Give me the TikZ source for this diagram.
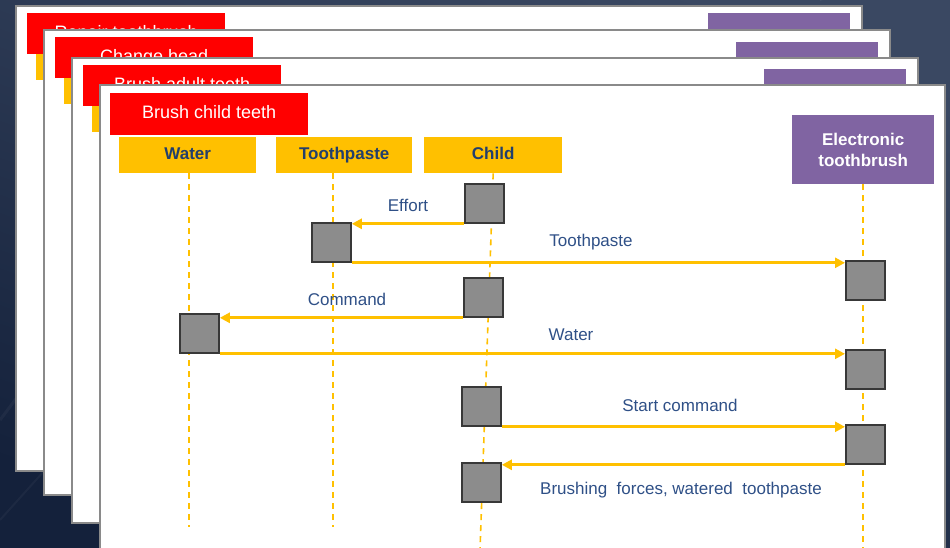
\documentclass[tikz,border=0pt]{standalone}
\usepackage{fontspec}
\setmainfont{Liberation Sans}
\usetikzlibrary{arrows.meta}

\definecolor{bgtop}{HTML}{3A4862}
\definecolor{bgbot}{HTML}{14213B}
\definecolor{tred}{HTML}{FF0000}
\definecolor{amber}{HTML}{FFC000}
\definecolor{violet}{HTML}{8064A2}
\definecolor{ink}{HTML}{2F5087}
\definecolor{inkdark}{HTML}{223F6C}
\definecolor{actfill}{HTML}{8C8C8C}
\definecolor{actedge}{HTML}{383838}
\definecolor{sheetedge}{HTML}{8A8A8A}

\tikzset{
  sheetbox/.style={rectangle, fill=white, draw=sheetedge, line width=1.3pt,
    inner sep=0pt, outer sep=0pt, anchor=north west, minimum width=846pt},
  titlebox/.style={rectangle, fill=tred, inner sep=0pt, anchor=north west,
    minimum width=198pt, minimum height=42pt, text=white,
    text height=13pt, text depth=4pt, font=\fontsize{18}{20}\selectfont},
  headbox/.style={rectangle, fill=amber, inner sep=0pt, anchor=north west,
    minimum height=36pt, text=inkdark, text height=12pt, text depth=3pt,
    font=\bfseries\fontsize{17}{19}\selectfont},
  toolbox/.style={rectangle, fill=violet, inner sep=0pt, minimum width=142pt,
    text=white, align=center, font=\bfseries\fontsize{17}{21}\selectfont},
  act/.style={rectangle, fill=actfill, draw=actedge, line width=1.8pt, inner sep=0pt,
    anchor=north west, minimum width=39pt, minimum height=39pt},
  lifeline/.style={draw=amber, line width=1.6pt, dash pattern=on 6pt off 5pt},
  msg/.style={draw=amber, line width=2.7pt, -{Triangle[length=10pt,width=10pt]}},
  msglabel/.style={text=ink, inner sep=0pt, font=\fontsize{17}{19}\selectfont},
}

% a sheet lying behind the front one: frame, title bar, first lane head, tool box
\newcommand\backsheet[4]{%
  \begin{scope}[shift={#2}]
    \node[sheetbox, minimum height=465pt] (#1) at (0,0) {};
    \node[titlebox, minimum height=41pt] (#1title) at (11,7) {#3};
    \node[headbox, minimum width=137pt, minimum height=26pt] (#1lane) at (20,48) {};
    \node[toolbox, anchor=north east, minimum height=40pt] (#1tool) at (834,#4) {};
  \end{scope}}

\begin{document}
\begin{tikzpicture}[x=1pt, y=-1pt]
  \useasboundingbox (0,0) rectangle (950,548);
  \begin{scope}
  \clip (0,0) rectangle (950,548);

  % dark backdrop
  \shade[top color=bgtop, bottom color=bgbot, shading angle=-20] (-10,-10) rectangle (960,560);
  \draw[white, opacity=0.04, line width=3pt] (0,420) -- (60,340);
  \draw[white, opacity=0.04, line width=2pt] (0,520) -- (90,420);
  \draw[white, opacity=0.05, line width=2pt] (820,0) -- (870,-20);

  % stacked sheets behind
  \backsheet{sA}{(16,6)}{Repair toothbrush}{7}
  \backsheet{sB}{(44,30)}{Change head}{12}
  \backsheet{sC}{(72,58)}{Brush adult teeth}{11}

  % front sheet
  \node[sheetbox, minimum width=845pt, minimum height=500pt] (front) at (100,85) {};
  \node[titlebox] (title) at (110,93) {Brush child teeth};

  % lane heads
  \node[headbox, minimum width=137pt] (hWater) at (119,137) {Water};
  \node[headbox, minimum width=136pt] (hPaste) at (276,137) {Toothpaste};
  \node[headbox, minimum width=138pt] (hChild) at (424,137) {Child};
  \node[toolbox, anchor=north west, minimum height=69pt] (hBrush) at (792,115)
    {Electronic\\toothbrush};

  % lifeline ends
  \coordinate (wEnd) at (189,527);
  \coordinate (pEnd) at (333,527);
  \coordinate (cEnd) at (480,550);
  \coordinate (bEnd) at (863,550);

  \draw[lifeline] (hWater.south -| wEnd) -- (wEnd);
  \draw[lifeline] (hPaste.south -| pEnd) -- (pEnd);
  \draw[lifeline] (hChild.south) -- (cEnd);
  \draw[lifeline] (hBrush.south -| bEnd) -- (bEnd);

  % activations
  \node[act] (c1) at (464,183) {};
  \node[act] (tp) at (311,222) {};
  \node[act] (c2) at (463,277) {};
  \node[act] (wa) at (179,313) {};
  \node[act] (e1) at (845,260) {};
  \node[act] (e2) at (845,349) {};
  \node[act] (c3) at (461,386) {};
  \node[act] (e3) at (845,424) {};
  \node[act] (c4) at (461,462) {};

  % messages, kept level with the sending activation
  \draw[msg] (c1.south west) -- (c1.south west -| tp.east);
  \draw[msg] (tp.south east) -- (tp.south east -| e1.west);
  \draw[msg] (c2.south west) -- (c2.south west -| wa.east);
  \draw[msg] (wa.south east) -- (wa.south east -| e2.west);
  \draw[msg] (c3.south east) -- (c3.south east -| e3.west);
  \draw[msg] (e3.south west) -- (e3.south west -| c4.east);

  \node[msglabel] (lEffort) at (408,205) {Effort};
  \node[msglabel] (lPaste) at (591,242) {Toothpaste};
  \node[msglabel] (lCommand) at (347,299) {Command};
  \node[msglabel] (lWater) at (571,335) {Water};
  \node[msglabel] (lStart) at (680,405) {Start command};
  \node[msglabel] (lBrush) at (681,490) {Brushing\ \ forces,\ watered\ \ toothpaste};
  \end{scope}
\end{tikzpicture}
\end{document}
